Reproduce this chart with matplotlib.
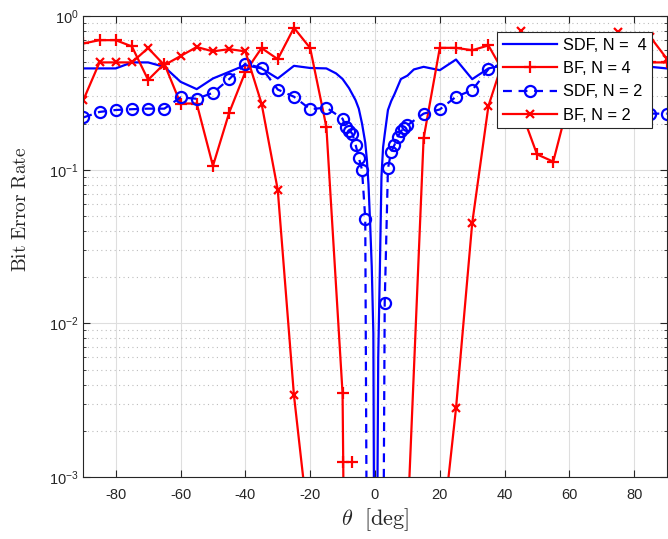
import numpy as np
import matplotlib
matplotlib.use('Agg')
from matplotlib import pyplot as plt

nan = np.nan

## SDF, N = 4 (dense around broadside)
sdf4_theta = [-90, -85, -80, -75, -70, -65, -60, -55, -50, -45, -40, -35, -30, -25, -20, -15,
              -12, -10, -8, -6, -5, -4, -3, -2.5, -2, -1.5, -1, -0.5, 0, 0.5, 1, 1.5, 2, 2.5,
              3, 4, 5, 6, 8, 10, 12, 15, 20, 25, 30, 35, 40, 45, 50, 55, 60, 65, 70, 75, 80, 85, 90]
sdf4_ber = [0.457, 0.457, 0.457, 0.50, 0.50, 0.468, 0.374, 0.335, 0.393, 0.434, 0.48, 0.457, 0.393, 0.475, 0.46, 0.457,
            0.424, 0.39, 0.34, 0.284, 0.25, 0.2, 0.15, 0.116, 0.08, 0.045, 0.0234, 0.0086, 1e-5, 1e-4, 0.006, 0.022, 0.09, 0.14,
            0.17, 0.245, 0.28, 0.31, 0.39, 0.41, 0.45, 0.468, 0.445, 0.522, 0.389, 0.457, 0.48, 0.43, 0.39, 0.34, 0.37, 0.47, 0.5, 0.5, 0.46, 0.468, 0.457]

## BF, N = 4
bf4_theta = [-90, -85, -80, -75, -70, -65, -60, -55, -50, -45, -40, -35, -30, -25, -20, -15, -10,
             -9.8, -9, -8, -7, -6, 10, 15, 20, 25, 30, 35, 40, 45, 50, 55, 60, 65, 70, 75, 80, 85, 90]
bf4_ber = [0.664, 0.698, 0.698, 0.635, 0.385, 0.49, 0.27, 0.27, 0.106, 0.235, 0.434, 0.62, 0.525, 0.84, 0.62, 0.19, 0.0035,
           0.00125, 1e-5, nan, 0.00125, nan, 4.8e-4, 0.16, 0.622, 0.622, 0.60, 0.645, 0.42, 0.245, 0.126, 0.113, 0.29, 0.45, 0.55, 0.62, 0.66, 0.50, 0.50]

## SDF, N = 2
sdf2_theta = [-90, -85, -80, -75, -70, -65, -60, -55, -50, -45, -40, -35, -30, -25, -20, -15,
              -10, -9, -8, -7, -6, -5, -4, -3, -2, -1, 0, 1, 2, 3, 4, 5, 6, 7, 8, 9, 10,
              15, 20, 25, 30, 35, 40, 45, 50, 55, 60, 65, 70, 75, 80, 85, 90]
sdf2_ber = [0.219, 0.238, 0.245, 0.248, 0.25, 0.25, 0.296, 0.29, 0.317, 0.389, 0.49, 0.461, 0.333, 0.299, 0.248, 0.254,
            0.215, 0.19, 0.18, 0.172, 0.146, 0.12, 0.1, 0.048, 1e-6, 1e-6, 1e-6, 1e-6, 1e-6, 0.0135, 0.102, 0.131, 0.145, 0.164, 0.178, 0.186, 0.195,
            0.232, 0.247, 0.299, 0.33, 0.452, 0.5, 0.43, 0.33, 0.3, 0.29, 0.25, 0.25, 0.25, 0.245, 0.232, 0.232]

## BF, N = 2
bf2_theta = [-90, -85, -80, -75, -70, -65, -60, -55, -50, -45, -40, -35, -30, -25, -20, -15, -10, -5, 0,
             5, 10, 15, 20, 25, 30, 35, 40, 45, 50, 55, 60, 65, 70, 75, 80, 85, 90]
bf2_ber = [0.284, 0.50, 0.50, 0.50, 0.62, 0.48, 0.55, 0.63, 0.59, 0.61, 0.59, 0.27, 0.074, 0.0034, 3.9e-4, nan, nan, nan, nan,
           nan, nan, nan, 3e-4, 0.0028, 0.045, 0.26, 0.55, 0.80, 0.6, 0.58, 0.62, 0.6, 0.66, 0.79, 0.72, 0.73, 0.53]

plt.rcParams['font.family'] = ['Liberation Sans', 'DejaVu Sans']
plt.rcParams['mathtext.fontset'] = 'cm'
plt.rcParams['axes.unicode_minus'] = False

fig = plt.figure(figsize=(6.68, 5.39), dpi=100)
ax = fig.add_axes([0.1247, 0.115, 0.8733, 0.855])

ax.semilogy(sdf4_theta, sdf4_ber, '-', color='b', lw=1.6, label='SDF, N =  4')
ax.semilogy(bf4_theta, bf4_ber, '-', color='r', lw=1.6, marker='+', ms=9, mew=1.6, label='BF, N = 4')
ax.semilogy(sdf2_theta, sdf2_ber, '--', color='b', lw=1.6, marker='o', ms=8, mfc='none', mew=1.6,
            dashes=(4, 3), label='SDF, N = 2')
ax.semilogy(bf2_theta, bf2_ber, '-', color='r', lw=1.6, marker='x', ms=6, mew=1.6, label='BF, N = 2')

ax.set_xlim(-90, 90)
ax.set_ylim(1e-3, 1)
ax.set_xticks([-80, -60, -40, -20, 0, 20, 40, 60, 80])

## MATLAB like grid and box
ax.set_axisbelow(True)
ax.grid(True, which='major', color='#dedede', lw=0.8)
ax.grid(True, which='minor', axis='y', ls=(0, (1, 3)), color='#bdbdbd', lw=0.8)
ax.tick_params(which='both', direction='in', top=True, right=True, colors='#262626', labelsize=10.5)
ax.tick_params(which='major', length=5)
ax.tick_params(which='minor', length=2.5)
ax.tick_params(axis='x', pad=8)
for s in ax.spines.values():
    s.set_color('#262626')
    s.set_linewidth(0.8)

ax.set_xlabel(r'$\theta\ \ [\mathrm{deg}]$', fontsize=16, color='#262626')
ax.set_ylabel(r'$\mathrm{Bit\ Error\ Rate}$', fontsize=14, color='#262626')
ax.xaxis.set_label_coords(0.5, -0.064)
ax.yaxis.set_label_coords(-0.092, 0.58)

leg = ax.legend(loc='upper right', bbox_to_anchor=(0.975, 0.965), fontsize=11.8, fancybox=False,
                framealpha=1, edgecolor='#262626', handlelength=3.3, labelspacing=0.5,
                borderpad=0.35, handletextpad=0.35, borderaxespad=0)
leg.get_frame().set_linewidth(0.8)

fig.savefig('out.png', dpi=100)
